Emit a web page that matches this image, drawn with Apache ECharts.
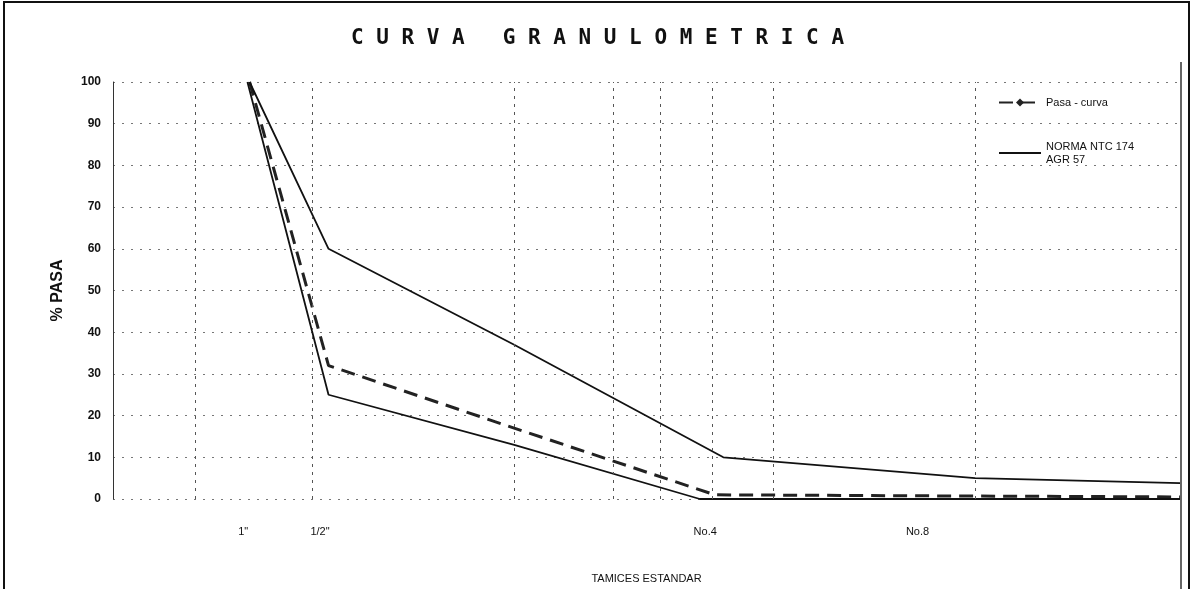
<!DOCTYPE html>
<html>
<head>
<meta charset="utf-8">
<script src="https://cdn.jsdelivr.net/npm/echarts@6/dist/echarts.min.js"></script>
<style>
  html, body { margin: 0; padding: 0; background: #fff; }
  #chart { width: 1195px; height: 589px; }
</style>
</head>
<body>
<div id="chart"></div>
<script>
// tamices (posicion en el eje x, escala relativa 0-100)
var tamizPos = [12.2, 19.4, 55.5, 75.4];
var tamizLabels = ['1"', '1/2"', 'No.4', 'No.8'];
var gridX = [7.7, 18.7, 37.6, 46.9, 51.3, 56.2, 61.9, 80.8];

// Pasa - curva
var pasaX = [12.8, 20.2, 37.6, 56.4, 80.8, 100];
var pasaY = [100, 32, 17, 1, 0.7, 0.5];

// norma NTC 174 AGR 57 - limite superior
var supX = [12.8, 20.2, 37.6, 57.2, 80.8, 100];
var supY = [100, 60, 37, 10, 5, 3.8];

// norma NTC 174 AGR 57 - limite inferior
var infX = [12.6, 20.2, 37.6, 55.0, 100];
var infY = [100, 25, 13, 0, 0];

function pares(xs, ys) {
	var out = [];
	for (var i = 0; i < xs.length; i++) out.push([xs[i], ys[i]]);
	return out;
}

var normaName = 'NORMA NTC 174\nAGR 57';
var fuente = '"Liberation Sans", Arial, sans-serif';

var dom = document.getElementById('chart');
var myChart = echarts.init(dom, null, {renderer: 'canvas'});
var option = {
	animation: false,
	backgroundColor: '#fff',
	title: {
		text: 'C U R V A   G R A N U L O M E T R I C A',
		left: 'center',
		top: 23,
		textStyle: {
			fontFamily: '"DejaVu Sans Mono", monospace',
			fontWeight: 'bold',
			fontSize: 21,
			color: '#111'
		}
	},
	legend: {
		orient: 'vertical',
		left: 998,
		top: 96,
		padding: 0,
		itemWidth: 42,
		itemHeight: 10,
		itemGap: 31,
		textStyle: {fontFamily: fuente, fontSize: 11, color: '#111', lineHeight: 13},
		data: [
			'Pasa - curva',
			{name: normaName, itemStyle: {opacity: 0}}
		]
	},
	grid: {
		left: 113,
		right: 15,
		top: 82,
		bottom: 86,
		show: false
	},
	xAxis: {
		type: 'value',
		min: 0,
		max: 100,
		name: 'TAMICES ESTANDAR',
		nameLocation: 'middle',
		nameGap: 74,
		nameTextStyle: {fontFamily: fuente, fontSize: 11, color: '#111'},
		axisLine: {show: false},
		axisTick: {show: false},
		splitLine: {show: false},
		axisLabel: {
			customValues: tamizPos,
			margin: 27,
			fontFamily: fuente,
			fontSize: 11,
			color: '#111',
			formatter: function (v) {
				for (var i = 0; i < tamizPos.length; i++) {
					if (Math.abs(tamizPos[i] - v) < 0.01) return tamizLabels[i];
				}
				return '';
			}
		}
	},
	yAxis: {
		type: 'value',
		min: 0,
		max: 100,
		interval: 10,
		name: '% PASA',
		nameLocation: 'middle',
		nameGap: 47,
		nameTextStyle: {fontFamily: fuente, fontSize: 16, fontWeight: 'bold', color: '#111'},
		axisLine: {show: true, lineStyle: {color: '#333', width: 1}},
		axisTick: {show: false},
		axisLabel: {margin: 12, fontFamily: fuente, fontSize: 12, fontWeight: 'bold', color: '#111'},
		splitLine: {show: true, lineStyle: {color: '#777', type: [2, 7], width: 1}}
	},
	graphic: [
		{
			type: 'rect',
			shape: {x: 4, y: 2, width: 1185, height: 640},
			style: {fill: null, stroke: '#111', lineWidth: 2},
			silent: true
		},
		{
			type: 'line',
			shape: {x1: 1181, y1: 62, x2: 1181, y2: 589},
			style: {stroke: '#333', lineWidth: 1.5},
			silent: true
		}
	],
	series: [
		{
			name: 'Pasa - curva',
			type: 'line',
			data: pares(pasaX, pasaY),
			symbol: 'diamond',
			symbolSize: 6,
			showSymbol: false,
			itemStyle: {color: '#222'},
			lineStyle: {color: '#222', width: 3, type: [14, 8]},
			z: 3,
			markLine: {
				silent: true,
				symbol: 'none',
				label: {show: false},
				lineStyle: {color: '#555', type: [3, 5], width: 1},
				data: gridX.map(function (x) { return {xAxis: x}; })
			}
		},
		{
			name: normaName,
			type: 'line',
			data: pares(supX, supY),
			symbol: 'none',
			itemStyle: {color: '#111'},
			lineStyle: {color: '#111', width: 1.8}
		},
		{
			name: normaName,
			type: 'line',
			data: pares(infX, infY),
			symbol: 'none',
			itemStyle: {color: '#111'},
			lineStyle: {color: '#111', width: 1.8}
		}
	]
};
myChart.setOption(option, true);
</script>
</body>
</html>
